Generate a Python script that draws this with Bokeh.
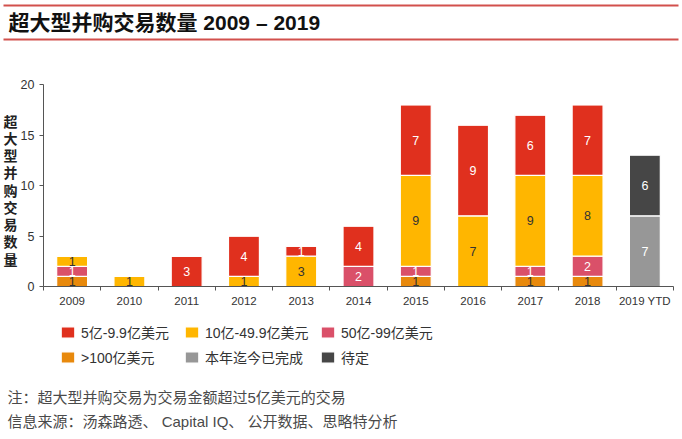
from bokeh.plotting import figure
from bokeh.models import (ColumnDataSource, Label, Legend, LegendItem, BoxAnnotation,
                          FixedTicker, Range1d)
from bokeh.core.properties import value
from bokeh.embed import file_html
from bokeh.resources import INLINE

# ---------------- data ----------------
years = ["2009", "2010", "2011", "2012", "2013", "2014", "2015", "2016", "2017", "2018", "2019 YTD"]
over_100 = [1, 0, 0, 0, 0, 0, 1, 0, 1, 1, 0]     # >100亿美元
b50_99 = [1, 0, 0, 0, 0, 2, 1, 0, 1, 2, 0]       # 50亿-99亿美元
b10_49 = [1, 1, 0, 1, 3, 0, 9, 7, 9, 8, 0]       # 10亿-49.9亿美元
b5_9 = [0, 0, 3, 4, 1, 4, 7, 9, 6, 7, 0]         # 5亿-9.9亿美元
ytd_done = [0, 0, 0, 0, 0, 0, 0, 0, 0, 0, 7]     # 本年迄今已完成
pending = [0, 0, 0, 0, 0, 0, 0, 0, 0, 0, 6]      # 待定
y_ticks = [0, 5, 10, 15, 20]
y_max = 20

series_keys = ["over_100", "b50_99", "b10_49", "b5_9", "ytd_done", "pending"]
series_vals = [over_100, b50_99, b10_49, b5_9, ytd_done, pending]
series_labels = [">100亿美元", "50亿-99亿美元", "10亿-49.9亿美元", "5亿-9.9亿美元", "本年迄今已完成", "待定"]
colors = ["#e8890c", "#da5069", "#ffb600", "#e0301e", "#979797", "#464646"]
text_colors = ["#333333", "#ffffff", "#333333", "#ffffff", "#ffffff", "#ffffff"]

title_text = "超大型并购交易数量 2009 – 2019"
ylabel_text = "超大型并购交易数量"
note_text = "注：超大型并购交易为交易金额超过5亿美元的交易"
source_text = "信息来源：汤森路透、 Capital IQ、 公开数据、思略特分析"

LATIN = "Liberation Sans, Noto Sans CJK SC"
CJK = "Noto Sans CJK SC"

# ---------------- layout constants (pixels) ----------------
W, H = 682, 439
PL, PR, PT, PB = 43, 673, 84, 286   # plot box: left, right, top (y=20), bottom (y=0)
n = len(years)
ux = (PR - PL) / n
uy = (PB - PT) / y_max

# ---------------- sources ----------------
xs = [i + 0.5 for i in range(n)]
data = {"x": xs}
for k, v in zip(series_keys, series_vals):
    data[k] = v
src = ColumnDataSource(data)

lx, ly, lt, lc = [], [], [], []
cum = [0] * n
for vals, tc in zip(series_vals, text_colors):
    for i, v in enumerate(vals):
        if v > 0:
            lx.append(xs[i])
            ly.append(cum[i] + v / 2)
            lt.append(str(v))
            lc.append(tc)
        cum[i] += v
lab_src = ColumnDataSource(dict(x=lx, y=ly, text=lt, color=lc))

# ---------------- figure ----------------
p = figure(width=W, height=H,
           x_range=Range1d(-PL / ux, (W - PL) / ux),
           y_range=Range1d(-(H - PB) / uy, PB / uy),
           output_backend="svg", toolbar_location=None, min_border=0)
p.title.visible = False
p.outline_line_color = None
p.grid.visible = False
p.background_fill_color = "white"
p.border_fill_color = "white"

rs = p.vbar_stack(series_keys, x="x", width=0.54, source=src,
                  fill_color=colors, line_color="white", line_width=1.2)

p.text(x="x", y="y", text="text", source=lab_src, text_color="color",
       text_align="center", text_baseline="middle", text_font_size="12.5px",
       text_font=value("Liberation Sans"))

# x axis
xa = p.xaxis[0]
xa.fixed_location = 0
xa.bounds = (0, n)
xa.ticker = FixedTicker(ticks=xs, minor_ticks=list(range(n + 1)))
xa.major_label_overrides = {x: y for x, y in zip(xs, years)}
xa.major_tick_out = 0
xa.major_tick_in = 0
xa.minor_tick_out = 4
xa.minor_tick_in = 0
xa.major_label_standoff = 4
xa.axis_line_color = "#555555"
xa.minor_tick_line_color = "#555555"
xa.major_label_text_font_size = "11.5px"
xa.major_label_text_color = "#333333"
xa.major_label_text_font = "Liberation Sans"

# y axis
ya = p.yaxis[0]
ya.fixed_location = 0
ya.bounds = (0, y_max)
ya.ticker = FixedTicker(ticks=y_ticks)
ya.major_tick_out = 4
ya.major_tick_in = 0
ya.minor_tick_line_color = None
ya.major_label_standoff = 5
ya.axis_line_color = "#555555"
ya.major_tick_line_color = "#555555"
ya.major_label_text_font_size = "12.5px"
ya.major_label_text_color = "#333333"
ya.major_label_text_font = "Liberation Sans"


# ---------------- annotations (screen units: x from left, y from bottom) ----------------
def sy(py):
    return H - py


for top_py in (4, 38):
    p.add_layout(BoxAnnotation(left=3, right=678, top=sy(top_py), bottom=sy(top_py + 2),
                               left_units="screen", right_units="screen",
                               top_units="screen", bottom_units="screen",
                               fill_color="#d2504c", fill_alpha=1, line_color=None))

p.add_layout(Label(x=8, y=sy(22), x_units="screen", y_units="screen", text=title_text,
                   text_font=LATIN, text_font_size="21px", text_font_style="bold",
                   text_color="#111111", text_align="left", text_baseline="middle"))

for i, ch in enumerate(ylabel_text):
    p.add_layout(Label(x=10, y=sy(120 + i * 17.25), x_units="screen", y_units="screen",
                       text=ch, text_font=CJK, text_font_size="14px", text_font_style="bold",
                       text_color="#222222", text_align="center", text_baseline="middle"))

p.add_layout(Label(x=7, y=sy(397), x_units="screen", y_units="screen", text=note_text,
                   text_font=LATIN, text_font_size="15px", text_color="#4a4a4a",
                   text_align="left", text_baseline="middle"))
p.add_layout(Label(x=7, y=sy(421), x_units="screen", y_units="screen", text=source_text,
                   text_font=LATIN, text_font_size="15px", text_color="#4a4a4a",
                   text_align="left", text_baseline="middle"))

# ---------------- legend: three columns of two rows ----------------
columns = [(3, 0, 59), (2, 4, 183), (1, 5, 319)]
for a, b, px in columns:
    lg = Legend(items=[LegendItem(label=series_labels[a], renderers=[rs[a]]),
                       LegendItem(label=series_labels[b], renderers=[rs[b]])],
                location=(px, sy(367)), orientation="vertical",
                glyph_width=17, glyph_height=14, label_height=14, label_standoff=5,
                spacing=5, padding=0, margin=0, border_line_color=None,
                background_fill_alpha=0, label_text_font_size="14px",
                label_text_color="#333333", label_text_font=LATIN)
    p.add_layout(lg)

open("out.html", "w").write(file_html(p, INLINE))
